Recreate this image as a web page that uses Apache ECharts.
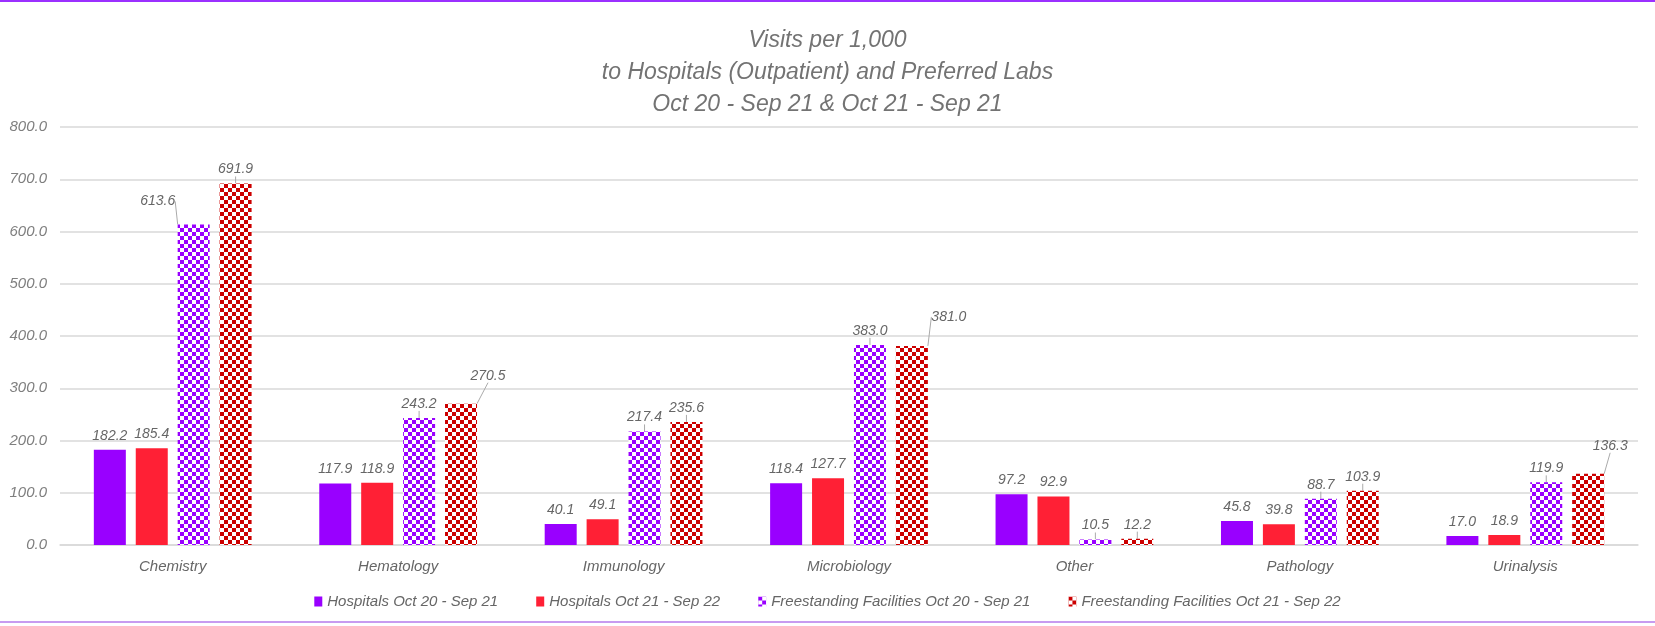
<!DOCTYPE html>
<html>
<head>
<meta charset="utf-8">
<script src="https://cdn.jsdelivr.net/npm/echarts@6/dist/echarts.min.js"></script>
<style>
html, body { margin: 0; padding: 0; background: #fff; }
#chart { width: 1655px; height: 626px; }
</style>
</head>
<body>
<div id="chart"></div>
<script>
var categories = ['Chemistry', 'Hematology', 'Immunology', 'Microbiology', 'Other', 'Pathology', 'Urinalysis'];
var seriesNames = ['Hospitals Oct 20 - Sep 21', 'Hospitals Oct 21 - Sep 22', 'Freestanding Facilities Oct 20 - Sep 21', 'Freestanding Facilities Oct 21 - Sep 22'];
var hosp2021 = [182.2, 117.9, 40.1, 118.4, 97.2, 45.8, 17.0];
var hosp2122 = [185.4, 118.9, 49.1, 127.7, 92.9, 39.8, 18.9];
var free2021 = [613.6, 243.2, 217.4, 383.0, 10.5, 88.7, 119.9];
var free2122 = [691.9, 270.5, 235.6, 381.0, 12.2, 103.9, 136.3];
var yTicks = [0, 100, 200, 300, 400, 500, 600, 700, 800];

function checker(color)
{
	var c = document.createElement('canvas');
	c.width = 8;
	c.height = 8;
	var ctx = c.getContext('2d');
	ctx.fillStyle = '#fff';
	ctx.fillRect(0, 0, 8, 8);
	ctx.fillStyle = color;
	ctx.fillRect(0, 0, 4, 4);
	ctx.fillRect(4, 4, 4, 4);
	return { image: c, repeat: 'repeat' };
}

var chart = echarts.init(document.getElementById('chart'));

var labelStyle = {
	show: true,
	position: 'top',
	distance: 7,
	color: '#666',
	fontSize: 14,
	fontStyle: 'italic',
	fontFamily: 'Liberation Sans',
	formatter: function (p) { return p.value.toFixed(1); }
};

// labels that were pushed aside, with leader lines
var moved = {
	'2-0': [-36, -9],
	'3-1': [27, -14],
	'3-3': [37, -15],
	'3-6': [22, -14]
};

var leader = { show: true, lineStyle: { color: '#aaa', width: 1 } };

option = {
	animation: false,
	title: {
		text: 'Visits per 1,000\nto Hospitals (Outpatient) and Preferred Labs\nOct 20 - Sep 21 & Oct 21 - Sep 21',
		left: 'center',
		top: 20,
		textStyle: {
			color: '#737373',
			fontSize: 23,
			fontWeight: 'normal',
			fontStyle: 'italic',
			fontFamily: 'Liberation Sans',
			lineHeight: 32
		}
	},
	legend: {
		bottom: 12,
		left: 'center',
		icon: 'rect',
		itemWidth: 8,
		itemHeight: 10,
		itemGap: 38,
		textStyle: { color: '#666', fontSize: 15, fontStyle: 'italic', fontFamily: 'Liberation Sans' },
		data: seriesNames
	},
	grid: {
		left: 60,
		right: 17,
		top: 127,
		bottom: 81,
		containLabel: false
	},
	xAxis: {
		type: 'category',
		data: categories,
		axisTick: { show: false },
		axisLine: { lineStyle: { color: '#d9d9d9', width: 1.5 } },
		axisLabel: { color: '#666', fontSize: 15, fontStyle: 'italic', fontFamily: 'Liberation Sans', margin: 14 }
	},
	yAxis: {
		type: 'value',
		min: yTicks[0],
		max: yTicks[yTicks.length - 1],
		interval: 100,
		axisLabel: {
			color: '#7f7f7f',
			fontSize: 15,
			fontStyle: 'italic',
			fontFamily: 'Liberation Sans',
			margin: 13,
			formatter: function (v) { return v.toFixed(1); }
		},
		splitLine: { lineStyle: { color: '#d9d9d9', width: 1.5 } }
	},
	series: [
		{ name: seriesNames[0], type: 'bar', data: hosp2021, barWidth: 32, barGap: '31%', itemStyle: { color: '#9900ff' }, label: labelStyle },
		{ name: seriesNames[1], type: 'bar', data: hosp2122, barWidth: 32, barGap: '31%', itemStyle: { color: '#ff2035' }, label: labelStyle },
		{ name: seriesNames[2], type: 'bar', data: free2021, barWidth: 32, barGap: '31%', itemStyle: { color: checker('#9900ff') }, label: labelStyle, labelLine: leader },
		{ name: seriesNames[3], type: 'bar', data: free2122, barWidth: 32, barGap: '31%', itemStyle: { color: checker('#cc0000') }, label: labelStyle, labelLine: leader }
	],
	labelLayout: function (p)
	{
		var m = moved[p.seriesIndex + '-' + p.dataIndex];
		if (m) return { dx: m[0], dy: m[1] };
		return {};
	},
	graphic: [
		{ type: 'rect', shape: { x: 0, y: 0, width: 1655, height: 2 }, style: { fill: '#9b30ff' } },
		{ type: 'rect', shape: { x: 0, y: 621, width: 1655, height: 2 }, style: { fill: '#c79bf0' } }
	]
};

chart.setOption(option);
</script>
</body>
</html>
